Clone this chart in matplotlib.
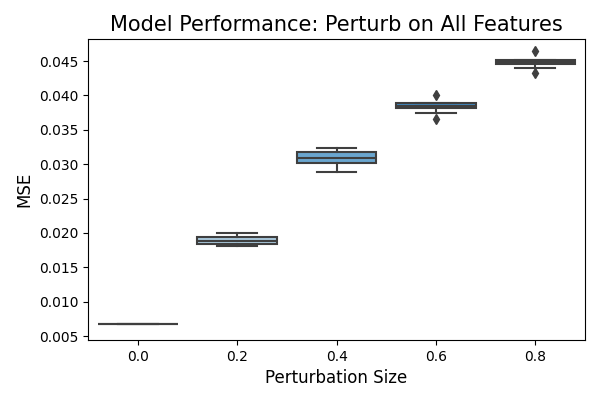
import matplotlib
matplotlib.use("Agg")
import matplotlib.pyplot as plt

categories = ["0.0", "0.2", "0.4", "0.6", "0.8"]
mse_00 = [0.00679, 0.00679, 0.00679, 0.00679, 0.00679, 0.00679, 0.00679, 0.00679, 0.00679]
mse_02 = [0.01813, 0.0183, 0.01845, 0.0187, 0.01886, 0.0190, 0.0194, 0.0197, 0.02003]
mse_04 = [0.0289, 0.0296, 0.0302, 0.0306, 0.0309, 0.0313, 0.0318, 0.0321, 0.03239]
mse_06 = [0.0366, 0.0374, 0.03815, 0.0383, 0.0385, 0.0387, 0.03885, 0.0389, 0.0400]
mse_08 = [0.04321, 0.0440, 0.0446, 0.0447, 0.04485, 0.0450, 0.0451, 0.0452, 0.0464]
data = [mse_00, mse_02, mse_04, mse_06, mse_08]

colors = ['#c6d9e8', '#a9c8dc', '#6aa6cf', '#3f86bc', '#2b5d8c']
line_c = '#3f3f3f'

fig = plt.figure(figsize=(6, 4), dpi=100)
ax = fig.add_axes([0.147, 0.15, 0.828, 0.7525])
positions = list(range(len(categories)))
bp = ax.boxplot(data, positions=positions, widths=0.8, patch_artist=True,
                whis=1.5,
                boxprops=dict(edgecolor=line_c, linewidth=1.5),
                medianprops=dict(color=line_c, linewidth=1.5),
                whiskerprops=dict(color=line_c, linewidth=1.5),
                capprops=dict(color=line_c, linewidth=1.5),
                flierprops=dict(marker='d', markerfacecolor=line_c, markeredgecolor=line_c, markersize=5))
for patch, c in zip(bp['boxes'], colors):
    patch.set_facecolor(c)
for cap in bp['caps']:
    xd = cap.get_xdata()
    m = (xd[0] + xd[1]) / 2
    cap.set_xdata([m - 0.2, m + 0.2])

ax.set_xlim(-0.5, 4.5)
ax.set_xticks(positions)
ax.set_xticklabels(categories)
ax.set_ylim(0.00442, 0.0482)
ax.set_yticks([0.005, 0.010, 0.015, 0.020, 0.025, 0.030, 0.035, 0.040, 0.045])
ax.set_yticklabels([f"{v:.3f}" for v in ax.get_yticks()])
ax.set_xlabel("Perturbation Size", fontsize=12)
ax.set_ylabel("MSE", fontsize=12)
ax.set_title("Model Performance: Perturb on All Features", fontsize=15)
fig.savefig("out.png", dpi=100)
